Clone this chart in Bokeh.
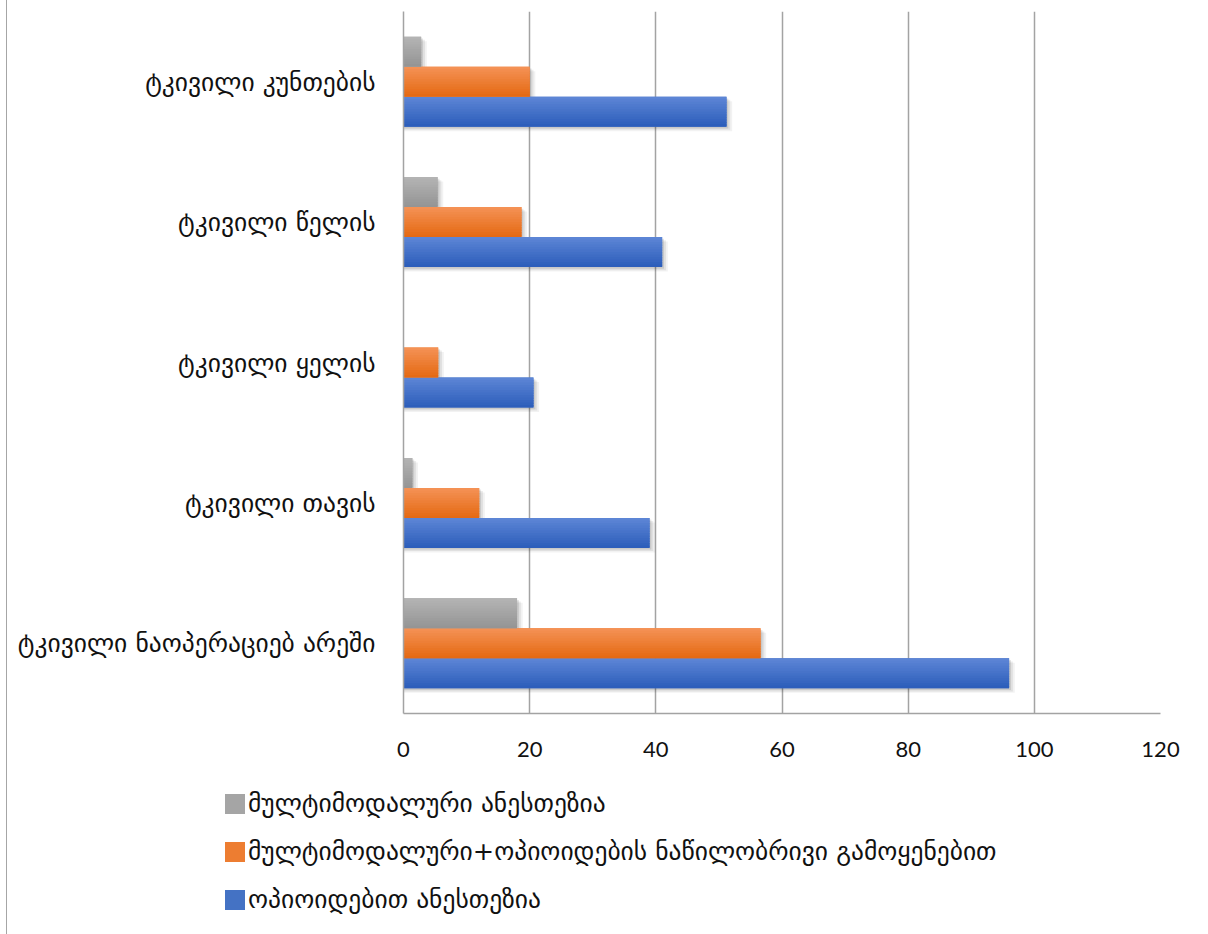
from bokeh.plotting import figure
from bokeh.models import (ColumnDataSource, FactorRange, Range1d, FixedTicker,
                          Legend, LegendItem)
from bokeh.transform import dodge
from bokeh.embed import file_html
from bokeh.resources import INLINE

# categories listed bottom to top
categories = [
    "ტკივილი ნაოპერაციებ არეში",
    "ტკივილი თავის",
    "ტკივილი ყელის",
    "ტკივილი წელის",
    "ტკივილი კუნთების",
]
opioid = [96, 39, 20.6, 41, 51.2]
partial = [56.6, 12, 5.5, 18.7, 20]
multimodal = [18, 1.4, 0, 5.4, 2.8]

series_labels = [
    "მულტიმოდალური ანესთეზია",
    "მულტიმოდალური+ოპიოიდების ნაწილობრივი გამოყენებით",
    "ოპიოიდებით ანესთეზია",
]
x_ticks = [0, 20, 40, 60, 80, 100, 120]

GEO_FONT = "DejaVu Sans"
GEO_SIZE = "25.5px"
GRID = "#a3a3a3"
FRAME_STYLE = {"border-left": "1px solid #a6a6a6"}

data = dict(cat=categories, opioid=opioid, partial=partial, multimodal=multimodal)
# shadow extents follow each bar's own length (no shadow for empty bars)
for name, vals in (("opioid", opioid), ("partial", partial), ("multimodal", multimodal)):
    for j, ext in enumerate((0.3, 0.6, 0.9)):
        data[f"{name}_sh{j}"] = [v + ext if v > 0 else 0 for v in vals]
src = ColumnDataSource(data)

p = figure(width=1201, height=780, output_backend="svg", toolbar_location=None,
           y_range=FactorRange(*categories, range_padding=0),
           x_range=Range1d(0, 120),
           min_border_left=396, min_border_right=48,
           min_border_top=11, min_border_bottom=67)
p.margin = (0, 0, 0, 6)
p.styles = FRAME_STYLE
p.outline_line_color = None

p.ygrid.grid_line_color = None
p.xgrid.grid_line_color = GRID
p.xgrid.grid_line_width = 1.5
p.xaxis.ticker = FixedTicker(ticks=x_ticks)
p.xaxis.axis_line_color = GRID
p.xaxis.axis_line_width = 1.5
p.xaxis.major_tick_line_color = None
p.xaxis.minor_tick_line_color = None
p.xaxis.major_label_text_font = "Lato"
p.xaxis.major_label_text_font_size = "22px"
p.xaxis.major_label_text_color = "#111111"
p.xaxis.major_label_standoff = 22

p.yaxis.axis_line_color = GRID
p.yaxis.axis_line_width = 1.5
p.yaxis.major_tick_line_color = None
p.yaxis.minor_tick_line_color = None
p.yaxis.major_label_text_font = GEO_FONT
p.yaxis.major_label_text_font_size = GEO_SIZE
p.yaxis.major_label_text_color = "#111111"
p.yaxis.major_label_standoff = 22

BAR = 0.2137  # bar thickness in category units
N = 12        # strips per bar for the vertical shading


def mix(c1, c2, t):
    a = [int(c1[i:i + 2], 16) for i in (1, 3, 5)]
    b = [int(c2[i:i + 2], 16) for i in (1, 3, 5)]
    return "#%02x%02x%02x" % tuple(round(a[i] + (b[i] - a[i]) * t) for i in range(3))


series = [
    # field, offset, top colour, bottom colour, base colour
    ("opioid", -BAR, "#5c85d5", "#2d5ebb", "#4472c4"),
    ("partial", 0.0, "#f49154", "#e56a14", "#ed7d31"),
    ("multimodal", BAR, "#b3b3b3", "#959595", "#a5a5a5"),
]

# soft drop shadows, offset down and to the right
for field, off, top, bot, base in series:
    for j, (dy, a) in enumerate([(-0.012, 0.10), (-0.022, 0.07), (-0.032, 0.05)]):
        p.hbar(y=dodge("cat", off + dy, range=p.y_range), left=0,
               right=f"{field}_sh{j}", height=BAR, source=src,
               fill_color="black", fill_alpha=a, line_color=None)

for field, off, top, bot, base in series:
    # solid body first, then overlapping shaded strips from top to bottom
    p.hbar(y=dodge("cat", off, range=p.y_range), left=0, right=field,
           height=BAR, source=src, fill_color=base, line_color=None)
    h = BAR / N
    for k in range(N):
        yoff = off + BAR / 2 - h * (k + 0.5)
        hk = h * 1.6 if k < N - 1 else h
        p.hbar(y=dodge("cat", yoff - (hk - h) / 2, range=p.y_range), left=0,
               right=field, height=hk, source=src,
               fill_color=mix(top, bot, k / (N - 1)), line_color=None)

# legend strip below the chart (a separate root so its frame is not aligned to the chart's)
leg = figure(width=1201, height=154, output_backend="svg", toolbar_location=None,
             x_axis_type=None, y_axis_type=None,
             x_range=Range1d(0, 1), y_range=Range1d(0, 1),
             min_border_left=215, min_border_top=8,
             min_border_right=0, min_border_bottom=0)
leg.margin = (0, 0, 0, 6)
leg.styles = FRAME_STYLE
leg.outline_line_color = None
leg.xgrid.grid_line_color = None
leg.ygrid.grid_line_color = None

items = []
for label, (field, off, top, bot, base) in zip(series_labels, series[::-1]):
    # zero-size proxy glyph that only supplies the legend swatch
    r = leg.hbar(y=0, left=0, right=0, height=0, fill_color=base, line_color=None)
    items.append(LegendItem(label=label, renderers=[r]))

legend = Legend(items=items, location="top_left", orientation="vertical")
legend.glyph_width = 25
legend.glyph_height = 25
legend.label_standoff = 1
legend.label_height = 25
legend.spacing = 18
legend.padding = 0
legend.margin = 0
legend.border_line_color = None
legend.background_fill_alpha = 0
legend.label_text_font = GEO_FONT
legend.label_text_font_size = GEO_SIZE
legend.label_text_color = "#111111"
leg.add_layout(legend, "center")

open("out.html", "w").write(file_html([p, leg], INLINE))
